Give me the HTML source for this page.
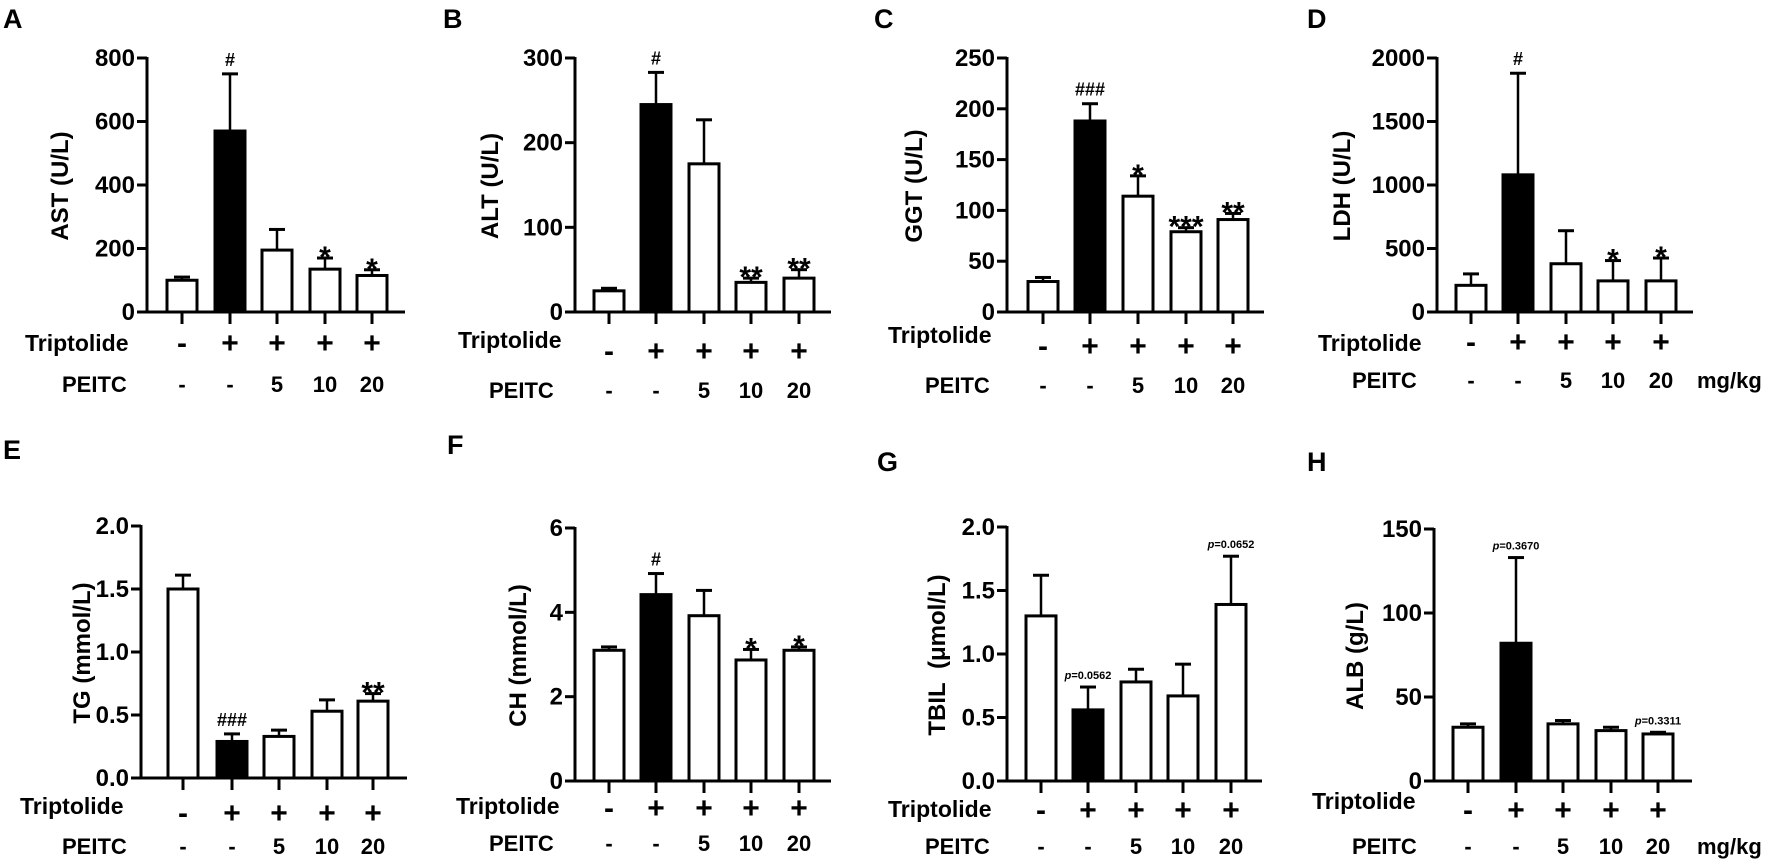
<!DOCTYPE html>
<html><head><meta charset="utf-8"><style>
body{margin:0;background:#fff}
svg text{font-family:"Liberation Sans",Arial,sans-serif;font-weight:bold;fill:#000}
</style></head><body>
<svg id="s" width="1772" height="862" xmlns="http://www.w3.org/2000/svg"></svg>
<script>
const P=[
{L:'A',lx:3,ly:28,ax:147,y0:312,yt:58,max:800,ticks:[0,200,400,600,800],dec:0,bars:[182,230,277,325,372],xe:405,
 v:[[100,10],[570,180],[195,65],[135,35],[115,18]],an:['','#','','*','*'],yl:'AST (U/L)',ylx:68,trx:25,try:342,sy:343,pey:383,pex:62,mg:0},
{L:'B',lx:443,ly:28,ax:575,y0:312,yt:58,max:300,ticks:[0,100,200,300],dec:0,bars:[609,656,704,751,799],xe:831,
 v:[[25,3],[245,38],[175,52],[35,5],[40,10]],an:['','#','','**','**'],yl:'ALT (U/L)',ylx:498,trx:458,try:339,sy:351,pey:389,pex:489,mg:0},
{L:'C',lx:874,ly:28,ax:1007,y0:312,yt:58,max:250,ticks:[0,50,100,150,200,250],dec:0,bars:[1043,1090,1138,1186,1233],xe:1264,
 v:[[30,4],[188,17],[114,20],[79,4],[91,6]],an:['','###','*','***','**'],yl:'GGT (U/L)',ylx:922,trx:888,try:334,sy:346,pey:384,pex:925,mg:0},
{L:'D',lx:1307,ly:28,ax:1437,y0:312,yt:58,max:2000,ticks:[0,500,1000,1500,2000],dec:0,bars:[1471,1518,1566,1613,1661],xe:1693,
 v:[[210,90],[1080,800],[380,260],[245,160],[245,180]],an:['','#','','*','*'],yl:'LDH (U/L)',ylx:1350,trx:1318,try:342,sy:342,pey:379,pex:1352,mg:1},
{L:'E',lx:3,ly:459,ax:141,y0:778,yt:526,max:2,ticks:[0,0.5,1,1.5,2],dec:1,bars:[183,232,279,327,373],xe:407,
 v:[[1.5,0.11],[0.29,0.06],[0.33,0.05],[0.53,0.09],[0.61,0.06]],an:['','###','','','**'],yl:'TG (mmol/L)',ylx:90,trx:20,try:805,sy:813,pey:845,pex:62,mg:0},
{L:'F',lx:447,ly:454,ax:575,y0:781,yt:528,max:6,ticks:[0,2,4,6],dec:0,bars:[609,656,704,751,799],xe:831,
 v:[[3.1,0.08],[4.42,0.5],[3.92,0.6],[2.87,0.25],[3.1,0.08]],an:['','#','','*','*'],yl:'CH (mmol/L)',ylx:526,trx:456,try:805,sy:808,pey:842,pex:489,mg:0},
{L:'G',lx:877,ly:471,ax:1007,y0:781,yt:527,max:2,ticks:[0,0.5,1,1.5,2],dec:1,bars:[1041,1088,1136,1183,1231],xe:1262,
 v:[[1.3,0.32],[0.56,0.18],[0.78,0.1],[0.67,0.25],[1.39,0.38]],an:['','p=0.0562','','','p=0.0652'],yl:'TBIL\u00a0\u00a0(\u03bcmol/L)',ylx:945,trx:888,try:808,sy:810,pey:845,pex:925,mg:0},
{L:'H',lx:1307,ly:471,ax:1434,y0:781,yt:529,max:150,ticks:[0,50,100,150],dec:0,bars:[1468,1516,1563,1611,1658],xe:1692,
 v:[[32,2],[82,51],[34,2],[30,2],[28,1]],an:['','p=0.3670','','','p=0.3311'],yl:'ALB (g/L)',ylx:1363,trx:1312,try:800,sy:810,pey:845,pex:1352,mg:1}
];
let h='';
const T=(x,y,t,o)=>{o=o||{};h+=`<text x="${x}" y="${y}" font-size="${o.fs||24}" text-anchor="${o.a||'start'}"${o.tr?` transform="${o.tr}"`:''}>${t}</text>`;};
const Ln=(x1,y1,x2,y2,w)=>{h+=`<line x1="${x1}" y1="${y1}" x2="${x2}" y2="${y2}" stroke="#000" stroke-width="${w||3}"/>`;};
P.forEach(p=>{
 const Y=v=>p.y0-(v/p.max)*(p.y0-p.yt);
 T(p.lx,p.ly,p.L,{fs:27});
 Ln(p.ax,p.yt-1,p.ax,p.y0+1.5);
 Ln(p.ax-1.5,p.y0,p.xe,p.y0);
 p.ticks.forEach(t=>{const y=Y(t);Ln(p.ax-10,y,p.ax,y);T(p.ax-12,y+8,t.toFixed(p.dec),{a:'end'});});
 const yc=(p.y0+p.yt)/2+10;
 T(p.ylx+9,yc,p.yl,{a:'middle',tr:`rotate(-90 ${p.ylx} ${yc})`});
 p.bars.forEach((cx,i)=>{
  const [m,e]=p.v[i];const yt=Y(m),ye=Y(m+e),w=30;
  Ln(cx,yt,cx,ye,2.5);Ln(cx-8,ye,cx+8,ye,3);
  h+=`<rect x="${cx-w/2}" y="${yt}" width="${w}" height="${p.y0-yt}" fill="${i==1?'#000':'#fff'}" stroke="#000" stroke-width="3"/>`;
  Ln(cx,p.y0,cx,p.y0+12);
  const a=p.an[i];
  if(a){
   if(a[0]=='p'){T(cx,ye-8,`<tspan style="font-style:italic">p</tspan>=${a.slice(2)}`,{fs:11,a:'middle'});}
   else if(a[0]=='*'){T(cx,ye+9,a,{fs:30,a:'middle'});}
   else T(cx,ye-8,a,{fs:18,a:'middle'});
  }
  T(cx,p.sy+10,i==0?'-':'+',{fs:30,a:'middle'});
  T(cx,p.pey+9,['-','-','5','10','20'][i],{fs:22,a:'middle'});
 });
 T(p.trx,p.try+9,'Triptolide',{fs:23});
 T(p.pex,p.pey+9,'PEITC',{fs:22});
 if(p.mg)T(1697,p.pey+9,'mg/kg',{fs:22});
});
document.getElementById('s').innerHTML=h;
</script>
</body></html>
